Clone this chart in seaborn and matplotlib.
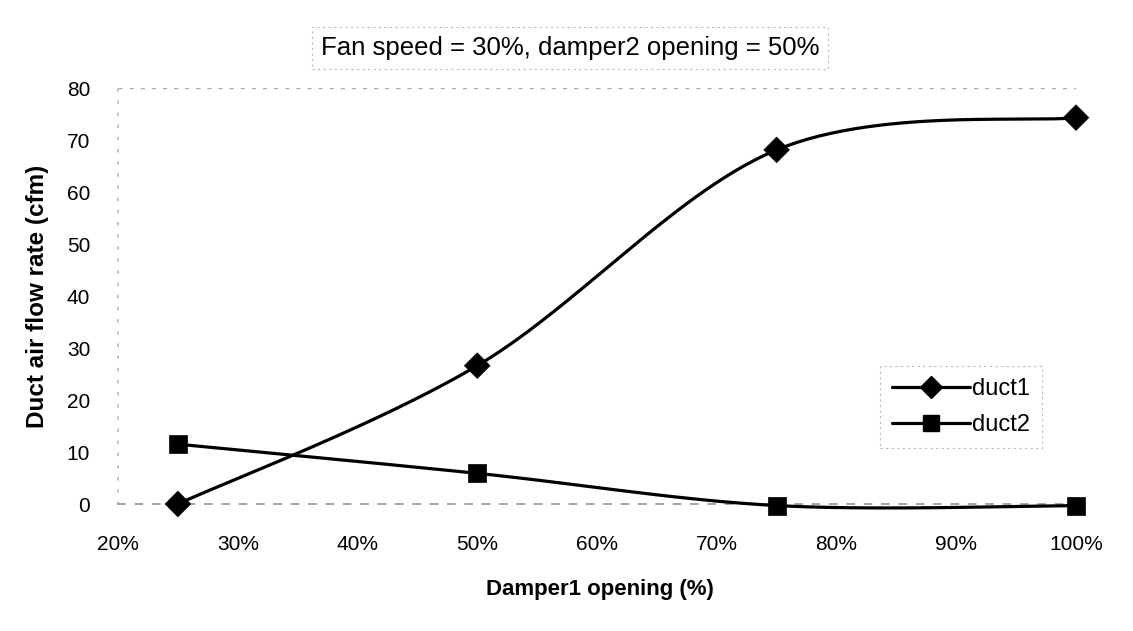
import numpy as np
import pandas as pd
import matplotlib
matplotlib.use("Agg")
import matplotlib.pyplot as plt
import seaborn as sns
from matplotlib.lines import Line2D

# ---- data ----
damper1_opening = [25, 50, 75, 100]          # %
duct1 = [0.0, 26.6, 68.1, 74.3]              # cfm
duct2 = [11.5, 5.9, -0.3, -0.3]              # cfm
series_names = ["duct1", "duct2"]
x_ticks = [20, 30, 40, 50, 60, 70, 80, 90, 100]
y_ticks = [0, 10, 20, 30, 40, 50, 60, 70, 80]
title_text = "Fan speed = 30%, damper2 opening = 50%"
x_label = "Damper1 opening (%)"
y_label = "Duct air flow rate (cfm)"

df = pd.DataFrame({
    "x": damper1_opening * 2,
    "y": duct1 + duct2,
    "series": ["duct1"] * 4 + ["duct2"] * 4,
})

sns.set_theme(style="white")
plt.rcParams["font.family"] = ["Liberation Sans", "DejaVu Sans"]
plt.rcParams["text.color"] = "black"
plt.rcParams["xtick.color"] = "black"
plt.rcParams["ytick.color"] = "black"

fig = plt.figure(figsize=(11.33, 6.31), dpi=100)
W, H = 1133, 631
x0, x1 = 118, 1076
y0, y1 = 504, 88
ax = fig.add_axes([x0 / W, 1 - y0 / H, (x1 - x0) / W, (y0 - y1) / H])


def excel_smooth(xs, ys, n=60):
    # Bezier smoothing similar to spreadsheet "smoothed line" rendering
    xs = np.asarray(xs, float)
    ys = np.asarray(ys, float)
    P = np.column_stack([xs, ys])
    out = []
    for i in range(len(P) - 1):
        p0 = P[i - 1] if i > 0 else P[i]
        p1 = P[i]
        p2 = P[i + 1]
        p3 = P[i + 2] if i + 2 < len(P) else P[i + 1]
        c1 = p1 + (p2 - p0) / 6.0
        c2 = p2 - (p3 - p1) / 6.0
        t = np.linspace(0, 1, n)[:, None]
        seg = ((1 - t) ** 3) * p1 + 3 * ((1 - t) ** 2) * t * c1 + 3 * (1 - t) * t ** 2 * c2 + t ** 3 * p2
        out.append(seg if i == 0 else seg[1:])
    return np.vstack(out)


markers = {"duct1": "D", "duct2": "s"}
for name in series_names:
    sub = df[df.series == name]
    curve = excel_smooth(sub.x, sub.y)
    ax.plot(curve[:, 0], curve[:, 1], color="black", lw=2.3, clip_on=False, zorder=3)

sns.scatterplot(data=df, x="x", y="y", style="series", markers=markers,
                color="black", s=170, edgecolor="black", linewidth=0.5,
                legend=False, ax=ax, zorder=4, clip_on=False)

ax.set_xlabel("")
ax.set_ylabel("")
ax.set_xlim(20, 100)
ax.set_ylim(0, 80)
ax.set_xticks(x_ticks)
ax.set_xticklabels([f"{v}%" for v in x_ticks])
ax.set_yticks(y_ticks)
ax.tick_params(axis="both", labelsize=15, length=0)
ax.tick_params(axis="x", pad=22)
ax.tick_params(axis="y", pad=20)

for s in ["right", "top"]:
    ax.spines[s].set_visible(False)
ax.spines["left"].set_color("#bbbbbb")
ax.spines["left"].set_linestyle((0, (1, 6)))
ax.spines["bottom"].set_color("#999999")
ax.spines["bottom"].set_linestyle((0, (4, 6)))
ax.axhline(80, color="#aaaaaa", lw=1, ls=(0, (3, 5)), zorder=1)

fig.text(600 / W, 1 - 590 / H, x_label, ha="center", va="center",
         fontsize=16, fontweight="bold")
fig.text(38 / W, 1 - 296 / H, y_label, ha="center", va="center", rotation=90,
         fontsize=17.5, fontweight="bold")
fig.text(570 / W, 1 - 48 / H, title_text, ha="center", va="center", fontsize=18.5,
         bbox=dict(boxstyle="square,pad=0.35", fc="white", ec="#bbbbbb", lw=0.8, ls=(0, (2, 3))))

handles = [Line2D([0], [0], color="black", lw=2.3, marker="D", markersize=11),
           Line2D([0], [0], color="black", lw=2.3, marker="s", markersize=12)]
leg = ax.legend(handles, series_names, loc="upper left",
                bbox_to_anchor=((880 - x0) / (x1 - x0), (y0 - 366) / (y0 - y1)),
                fontsize=17, frameon=True, fancybox=False, handlelength=3.3,
                handletextpad=0.1, borderpad=0.5, labelspacing=0.6, borderaxespad=0)
leg.get_frame().set_edgecolor("#aaaaaa")
leg.get_frame().set_linestyle((0, (2, 3)))
leg.get_frame().set_linewidth(0.8)

fig.savefig("out.png", dpi=100, facecolor="white")
